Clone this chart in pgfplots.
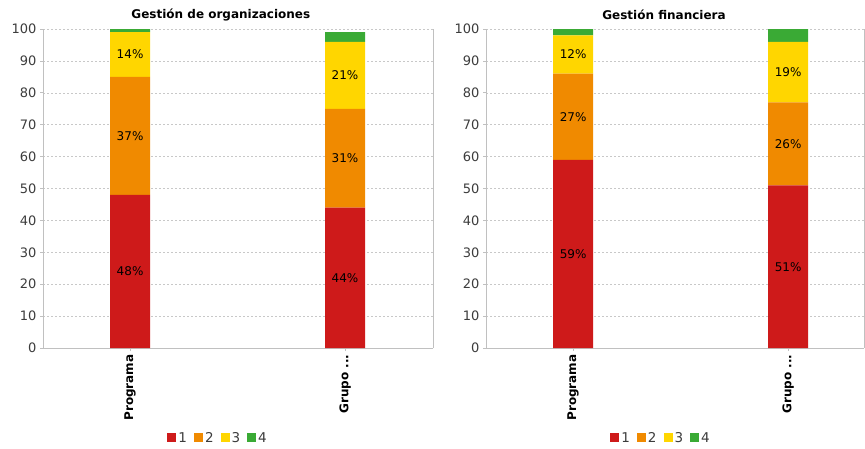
\documentclass[border=0pt]{standalone}
\usepackage{pgfplots}
\pgfplotsset{compat=1.18}
\usepackage{fontspec}
\setmainfont{DejaVu Sans}
\definecolor{c1}{RGB}{206,26,26}
\definecolor{c2}{RGB}{240,138,0}
\definecolor{c3}{RGB}{255,214,0}
\definecolor{c4}{RGB}{58,170,53}
\definecolor{axgray}{RGB}{192,192,192}
\definecolor{gridgray}{RGB}{200,200,200}
\definecolor{txt}{RGB}{60,60,60}
\newcommand{\tf}{\fontsize{12}{14}\selectfont}
\newcommand{\yf}{\fontsize{13}{15}\selectfont}
\newcommand{\lf}{\fontsize{13.5}{16}\selectfont}
\pgfplotsset{
  base/.style={
    scale only axis, height=319pt, ymin=0, ymax=100,
    ytick={0,10,...,100}, xtick={0,1}, xticklabels={Programa, Grupo .{}.{}.},
    /pgf/number format/assume math mode=true,
    axis x line*=bottom, axis y line*=box,
    ytick pos=left, xtick pos=bottom, tick align=outside,
    major tick length=3pt,
    axis line style={axgray, line width=1pt},
    tick style={axgray, line width=0.8pt},
    ymajorgrids, grid style={gridgray, dash pattern=on 2pt off 2pt, line width=0.6pt},
    y tick label style={font=\yf, text=txt},
    x tick label style={rotate=90, anchor=east, font=\bfseries\tf, text=black},
    ybar stacked, bar width=0.186,
    every axis title shift=0pt,
    legend style={draw=none, legend columns=4, font=\lf, text=txt, anchor=center,
      /tikz/every even column/.append style={column sep=5pt}},
    legend image code/.code={\fill[#1] (0pt,-4.5pt) rectangle (9pt,4.5pt);},
  },
  lab/.style={
    scale only axis, height=319pt, ymin=0, ymax=100, hide axis,
  },
  labplot/.style={only marks, mark=none, nodes near coords, point meta=explicit symbolic,
    nodes near coords align={center},
    every node near coord/.append style={font=\tf, text=black}},
}
\begin{document}
\begin{tikzpicture}
\path[use as bounding box] (0pt,0pt) rectangle (865pt,448pt);
% left chart
\begin{axis}[base, at={(43pt,100pt)}, anchor=south west, width=390pt,
  xmin=-0.405, xmax=1.409,
  title={Gestión de organizaciones},
  title style={at={(0.456,1.045)}, anchor=center, font=\bfseries\tf},
  legend style={at={(0.449,-0.282)}}]
\addplot[fill=c1, draw=none] coordinates {(0,48) (1,44)};
\addplot[fill=c2, draw=none] coordinates {(0,37) (1,31)};
\addplot[fill=c3, draw=none] coordinates {(0,14) (1,21)};
\addplot[fill=c4, draw=none] coordinates {(0,1) (1,3)};
\legend{1,2,3,4}
\end{axis}
\begin{axis}[lab, at={(43pt,100pt)}, anchor=south west, width=390pt,
  xmin=-0.405, xmax=1.409]
\addplot[labplot] coordinates {(0,24) [48\%] (0,66.5) [37\%] (0,92) [14\%]
  (1,22) [44\%] (1,59.5) [31\%] (1,85.5) [21\%]};
\end{axis}
% right chart
\begin{axis}[base, at={(486pt,100pt)}, anchor=south west, width=378pt,
  xmin=-0.405, xmax=1.353,
  title={Gestión financiera},
  title style={at={(0.471,1.045)}, anchor=center, font=\bfseries\tf},
  legend style={at={(0.463,-0.282)}}]
\addplot[fill=c1, draw=none] coordinates {(0,59) (1,51)};
\addplot[fill=c2, draw=none] coordinates {(0,27) (1,26)};
\addplot[fill=c3, draw=none] coordinates {(0,12) (1,19)};
\addplot[fill=c4, draw=none] coordinates {(0,2) (1,4)};
\legend{1,2,3,4}
\end{axis}
\begin{axis}[lab, at={(486pt,100pt)}, anchor=south west, width=378pt,
  xmin=-0.405, xmax=1.353]
\addplot[labplot] coordinates {(0,29.5) [59\%] (0,72.5) [27\%] (0,92) [12\%]
  (1,25.5) [51\%] (1,64) [26\%] (1,86.5) [19\%]};
\end{axis}
\end{tikzpicture}
\end{document}
